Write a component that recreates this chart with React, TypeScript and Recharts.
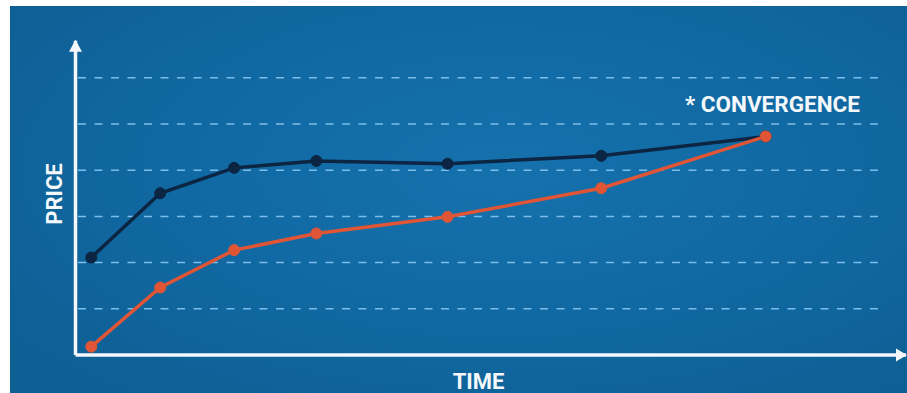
import React from "react";
import {
  LineChart,
  Line,
  XAxis,
  YAxis,
  ReferenceLine,
  ReferenceDot,
} from "recharts";

// Time positions of the observations (arbitrary time units, 0–100 along the axis)
const times = [1.9, 10.2, 19.1, 29.0, 44.8, 63.3, 83.1];
// Price of the first (dark) series at each time
const upperPrices = [21.1, 35.0, 40.5, 42.0, 41.4, 43.1, 47.3];
// Price of the second (orange) series at each time
const lowerPrices = [1.8, 14.6, 22.7, 26.3, 29.9, 36.1, 47.3];
// Horizontal dashed guide levels
const guideLevels = [10, 20, 30, 40, 50, 60];
// Axis labels and annotation
const xTitle = "TIME";
const yTitle = "PRICE";
const note = "* CONVERGENCE";

const X_DOMAIN: [number, number] = [0, 100];
const Y_DOMAIN: [number, number] = [0, 68];
const GUIDE_FROM = 0.3;
const GUIDE_TO = 97;

const rows = times.map((t, i) => ({
  time: t,
  upper: upperPrices[i],
  lower: lowerPrices[i],
}));

const WHITE = "#f4f8fb";
const NAVY = "#0b2542";
const ORANGE = "#df5536";
const GUIDE = "#7bbee9";
const FONT = "Roboto, 'Liberation Sans', Arial, sans-serif";

const UpArrow = (p: any) => (
  <polygon
    points={`${p.cx},${p.cy - 1} ${p.cx - 6.5},${p.cy + 11} ${p.cx + 6.5},${p.cy + 11}`}
    fill={WHITE}
  />
);

const RightArrow = (p: any) => (
  <polygon
    points={`${p.cx + 1},${p.cy} ${p.cx - 10},${p.cy - 6.5} ${p.cx - 10},${p.cy + 6.5}`}
    fill={WHITE}
  />
);

export default function App() {
  return (
    <div
      style={{
        position: "relative",
        width: 907,
        height: 393,
        background: "#ffffff",
        overflow: "hidden",
      }}
    >
      <style>{"body{margin:0}"}</style>
      <div
        style={{
          position: "absolute",
          left: 10,
          top: 6,
          width: 897,
          height: 387,
          background:
            "radial-gradient(ellipse 70% 75% at 55% 42%, #1571ac 0%, #1169a3 50%, #0e5f94 100%)",
        }}
      />
      <div style={{ position: "absolute", left: 0, top: 0 }}>
        <LineChart
          width={907}
          height={393}
          data={rows}
          margin={{ top: 40.8, right: 1, bottom: 38, left: 75.5 }}
        >
          <XAxis type="number" dataKey="time" domain={X_DOMAIN} hide />
          <YAxis type="number" domain={Y_DOMAIN} hide />
          {guideLevels.map((v) => (
            <ReferenceLine
              key={v}
              segment={[
                { x: GUIDE_FROM, y: v },
                { x: GUIDE_TO, y: v },
              ]}
              stroke={GUIDE}
              strokeWidth={1.5}
              strokeDasharray="8 8.5"
            />
          ))}
          {/* axis lines */}
          <ReferenceLine
            x={X_DOMAIN[0]}
            stroke={WHITE}
            strokeWidth={3.5}
            ifOverflow="visible"
          />
          <ReferenceLine
            y={Y_DOMAIN[0]}
            stroke={WHITE}
            strokeWidth={3.5}
            ifOverflow="visible"
            segment={[
              { x: -0.21, y: Y_DOMAIN[0] },
              { x: X_DOMAIN[1] - 0.5, y: Y_DOMAIN[0] },
            ]}
          />
          <ReferenceDot x={X_DOMAIN[0]} y={Y_DOMAIN[1]} ifOverflow="visible" shape={UpArrow} />
          <ReferenceDot x={X_DOMAIN[1]} y={Y_DOMAIN[0]} ifOverflow="visible" shape={RightArrow} />
          <Line
            type="linear"
            dataKey="upper"
            stroke={NAVY}
            strokeWidth={3.5}
            dot={{ r: 5.5, fill: NAVY, stroke: NAVY, strokeWidth: 1 }}
            isAnimationActive={false}
          />
          <Line
            type="linear"
            dataKey="lower"
            stroke={ORANGE}
            strokeWidth={3.5}
            dot={{ r: 5.5, fill: ORANGE, stroke: ORANGE, strokeWidth: 1 }}
            isAnimationActive={false}
          />
        </LineChart>
      </div>
      <svg
        width={907}
        height={393}
        style={{ position: "absolute", left: 0, top: 0, pointerEvents: "none" }}
      >
        <text
          x={62}
          y={194}
          transform="rotate(-90 62 194)"
          textAnchor="middle"
          fill={WHITE}
          fontFamily={FONT}
          fontWeight={700}
          fontSize={22}
        >
          {yTitle}
        </text>
        <text
          x={478.5}
          y={389}
          textAnchor="middle"
          fill={WHITE}
          fontFamily={FONT}
          fontWeight={700}
          fontSize={22}
        >
          {xTitle}
        </text>
        <text
          x={685}
          y={112}
          textAnchor="start"
          fill={WHITE}
          fontFamily={FONT}
          fontWeight={700}
          fontSize={22.5}
        >
          {note}
        </text>
      </svg>
    </div>
  );
}
